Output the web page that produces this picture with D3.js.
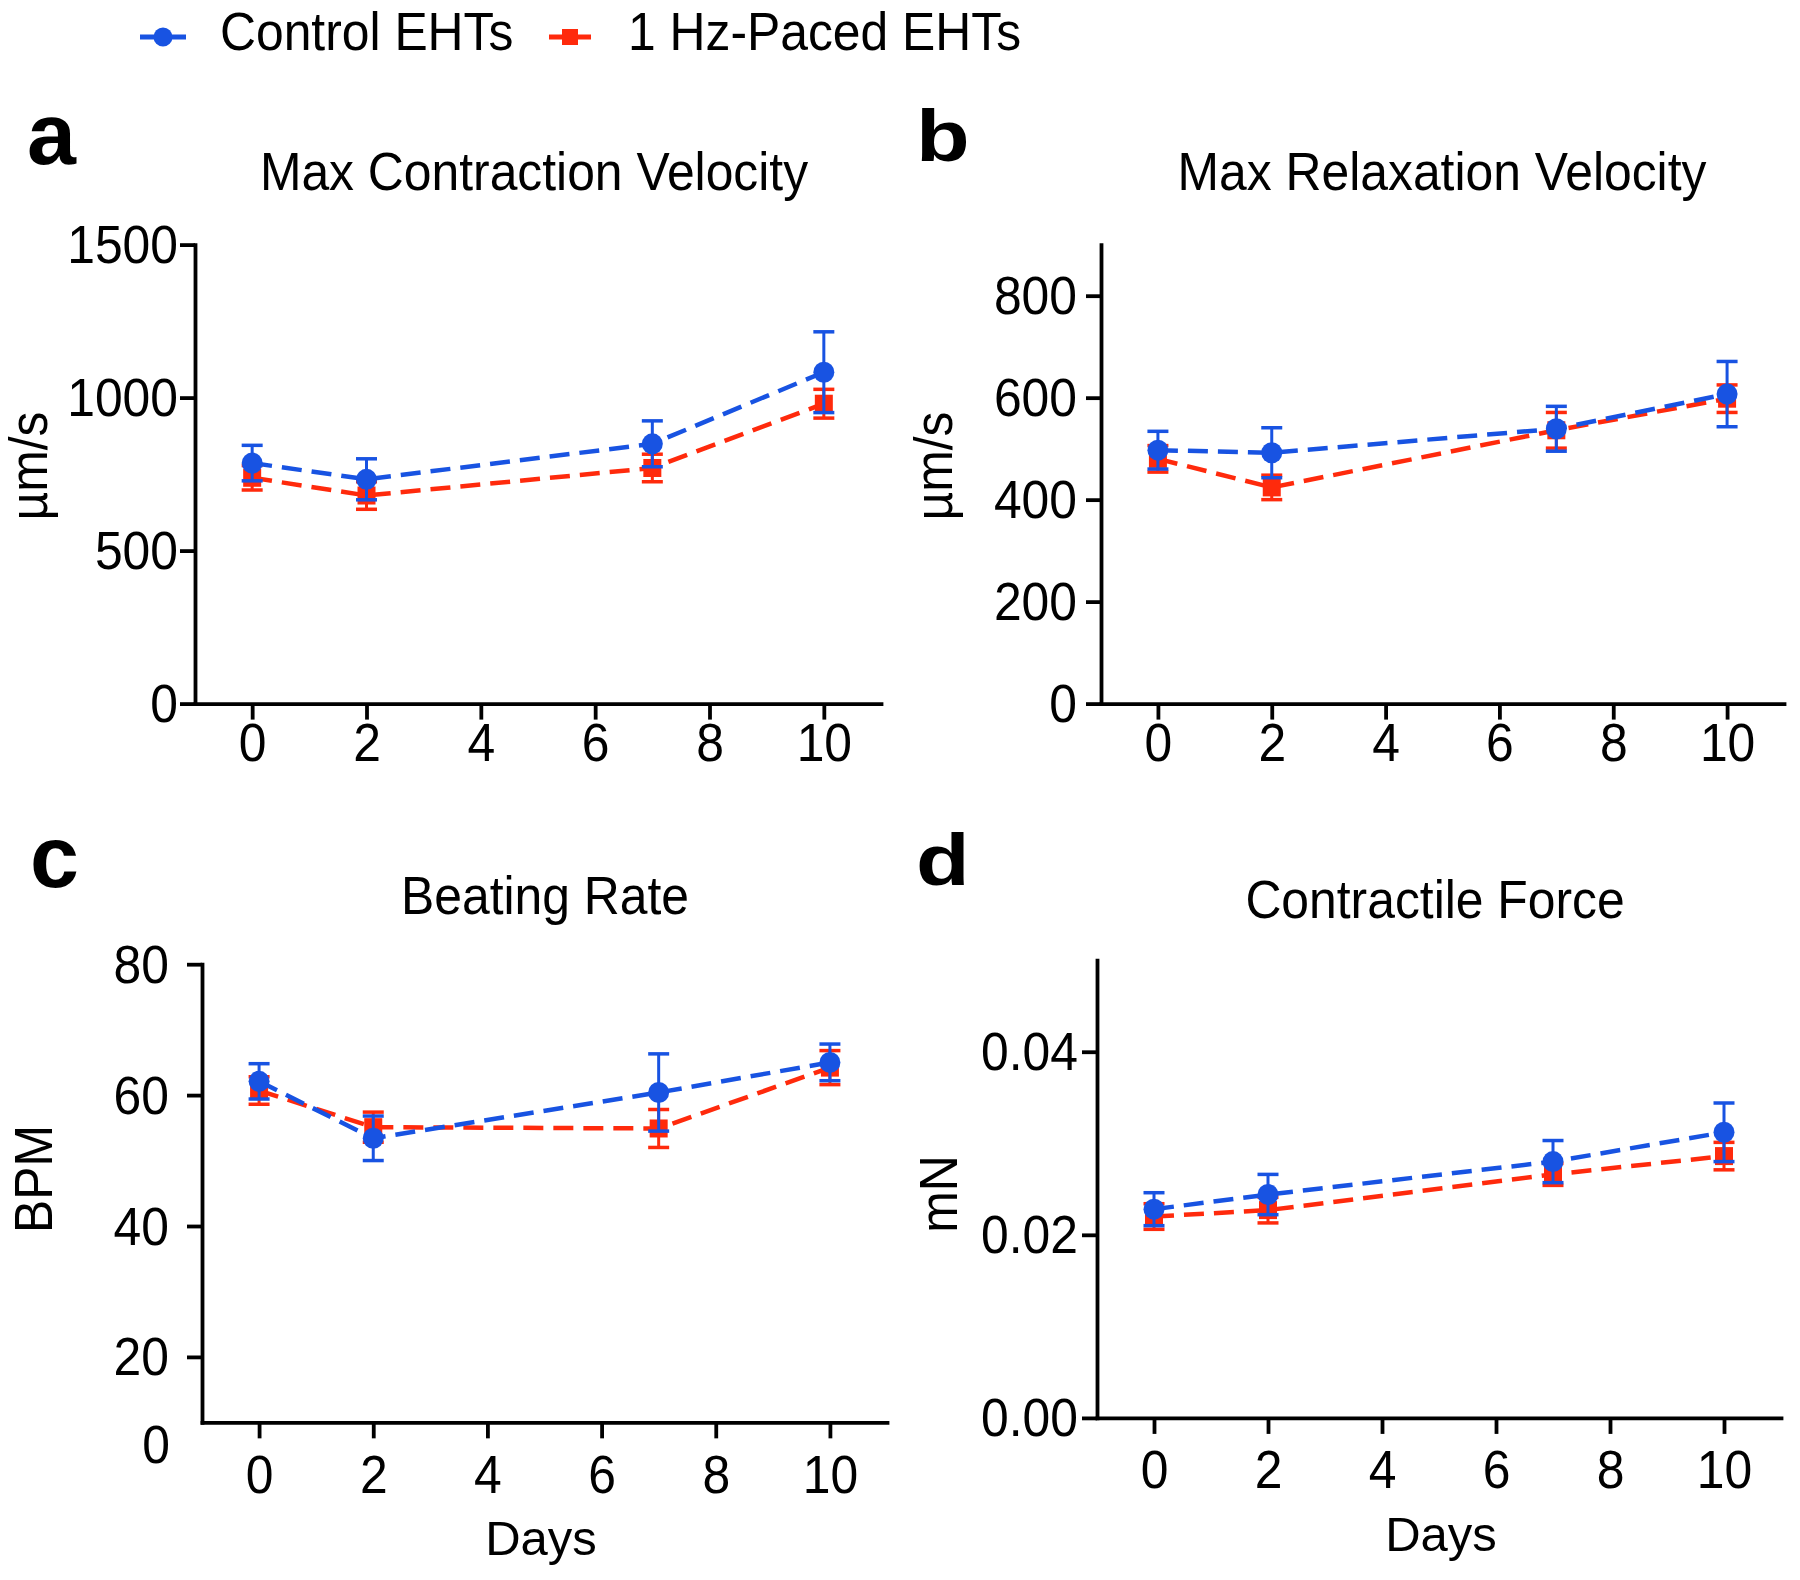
<!DOCTYPE html>
<html>
<head>
<meta charset="utf-8">
<script src="https://cdn.jsdelivr.net/npm/d3@7"></script>
<style>
  html, body { margin: 0; padding: 0; background: #fff; }
  svg { display: block; }
  text { font-family: "Liberation Sans", Arial, Helvetica, sans-serif; fill: #000; }
</style>
</head>
<body>
<svg id="chart" width="1800" height="1580"></svg>
<script>
// ---------------- DATA ----------------
const days = [0, 2, 7, 10];
const dayTicks = [0, 2, 4, 6, 8, 10];
const seriesNames = ["Control EHTs", "1 Hz-Paced EHTs"];
const panelLetters = ["a", "b", "c", "d"];
const panelTitles = ["Max Contraction Velocity", "Max Relaxation Velocity", "Beating Rate", "Contractile Force"];
const yTitles = ["µm/s", "µm/s", "BPM", "mN"];
const xTitle = "Days";

// a: Max Contraction Velocity (µm/s)
const ctrlContraction = [786, 733, 849, 1083];
const ctrlContractionSem = [58, 67, 75, 132];
const pacedContraction = [738, 680, 770, 980];
const pacedContractionSem = [40, 45, 45, 47];
const ticksContraction = [0, 500, 1000, 1500];

// b: Max Relaxation Velocity (µm/s)
const ctrlRelaxation = [497, 492, 539, 607];
const ctrlRelaxationSem = [37, 49, 44, 64];
const pacedRelaxation = [480, 424, 536, 598];
const pacedRelaxationSem = [26, 24, 35, 27];
const ticksRelaxation = [0, 200, 400, 600, 800];

// c: Beating Rate (BPM)
const ctrlRate = [62.1, 53.4, 60.4, 65.0];
const ctrlRateSem = [2.7, 3.4, 5.9, 2.8];
const pacedRate = [60.7, 55.1, 54.9, 64.2];
const pacedRateSem = [2.1, 2.3, 2.9, 2.6];
const ticksRate = [20, 40, 60, 80];
const ticksRateExtra = ["0"];

// d: Contractile Force (mN)
const ctrlForce = [0.0228, 0.0244, 0.0280, 0.0312];
const ctrlForceSem = [0.0018, 0.0022, 0.0023, 0.0032];
const pacedForce = [0.0220, 0.0227, 0.0266, 0.0286];
const pacedForceSem = [0.0014, 0.0014, 0.0012, 0.0015];
const ticksForce = [0, 0.02, 0.04];

// ---------------- STYLE / LAYOUT ----------------
const BLUE = "#1853e2";
const RED = "#ff2a0c";
const FS = 53;           // main font size
const SX = 0.94;         // horizontal glyph compression
const AXW = 3.8;         // axis stroke width

const svg = d3.select("#chart");

function txt(g, x, y, s, opts) {
  opts = opts || {};
  const t = g.append("text")
    .attr("transform", `translate(${x},${y})` + (opts.rotate ? ` rotate(${opts.rotate})` : "") + ` scale(${opts.sx === undefined ? SX : opts.sx},1)`)
    .attr("text-anchor", opts.anchor || "middle")
    .style("font-size", (opts.size || FS) + "px")
    .style("font-weight", opts.weight || "normal")
    .text(s);
  return t;
}

function fixAxisText(axisG, size) {
  axisG.selectAll(".tick text").each(function () {
    const t = d3.select(this);
    const x = +t.attr("x") || 0;
    const y = +t.attr("y") || 0;
    t.attr("x", 0).attr("y", 0)
     .attr("transform", `translate(${x},${y}) scale(${SX},1)`)
     .style("font-size", size + "px")
     .attr("fill", "#000");
  });
}

const panels = [
  { ctrl: ctrlContraction, ctrlSem: ctrlContractionSem, paced: pacedContraction, pacedSem: pacedContractionSem,
    ticks: ticksContraction, fmt: d3.format("d"),
    domain: [0, 1500], axisMin: 0, axisMax: 1500,
    xr: [195, 881], yr: [703.6, 244.6], yLabGap: 17, xLabPad: 4,
    title: [534, 190], ytitle: [47, 466], letter: [27, 164, 88, 1], xtitle: null },
  { ctrl: ctrlRelaxation, ctrlSem: ctrlRelaxationSem, paced: pacedRelaxation, pacedSem: pacedRelaxationSem,
    ticks: ticksRelaxation, fmt: d3.format("d"),
    domain: [0, 900], axisMin: 0, axisMax: 900,
    xr: [1101, 1784], yr: [703.6, 244.7], yLabGap: 24, xLabPad: 4,
    title: [1442, 190], ytitle: [952, 466], letter: [916, 161, 72, 1.22], xtitle: null },
  { ctrl: ctrlRate, ctrlSem: ctrlRateSem, paced: pacedRate, pacedSem: pacedRateSem,
    ticks: ticksRate, fmt: d3.format("d"),
    domain: [0, 80], axisMin: 10, axisMax: 80,
    xr: [202, 887], yr: [1487.8, 964.2], yLabGap: 33, xLabPad: 17,
    title: [545, 914], ytitle: [52, 1179], letter: [30, 887, 88, 1], xtitle: [541, 1555],
    extraLabel: { text: ticksRateExtra[0], value: 6.6 } },
  { ctrl: ctrlForce, ctrlSem: ctrlForceSem, paced: pacedForce, pacedSem: pacedForceSem,
    ticks: ticksForce, fmt: d3.format(".2f"),
    domain: [0, 0.05], axisMin: 0, axisMax: 0.05,
    xr: [1097, 1781], yr: [1417.9, 960.2], yLabGap: 19, xLabPad: 16,
    title: [1435, 918], ytitle: [957, 1194], letter: [916, 885, 72, 1.22], xtitle: [1441, 1551] }
];

panels.forEach((p, i) => {
  const g = svg.append("g");
  const x = d3.scaleLinear().domain([-1, 11]).range(p.xr);
  const y = d3.scaleLinear().domain(p.domain).range(p.yr);
  const yAxisScale = d3.scaleLinear().domain([p.axisMin, p.axisMax]).range([y(p.axisMin), y(p.axisMax)]);
  const baseY = y(p.axisMin);

  // y axis
  const ya = g.append("g").attr("transform", `translate(${p.xr[0]},0)`)
    .call(d3.axisLeft(yAxisScale).tickValues(p.ticks).tickFormat(p.fmt)
      .tickSize(15).tickSizeOuter(0).tickPadding(p.yLabGap - 15));
  ya.selectAll(".tick text").attr("dy", "0.34em");
  fixAxisText(ya, FS);

  // x axis
  const xa = g.append("g").attr("transform", `translate(0,${baseY})`)
    .call(d3.axisBottom(x).tickValues(dayTicks).tickFormat(d3.format("d"))
      .tickSize(16).tickSizeOuter(0).tickPadding(p.xLabPad));
  fixAxisText(xa, FS);

  [ya, xa].forEach(a => {
    a.select(".domain").attr("stroke", "#000").attr("stroke-width", AXW).attr("stroke-linecap", "square");
    a.selectAll(".tick line").attr("stroke", "#000").attr("stroke-width", AXW);
    a.attr("font-family", null).attr("font-size", null);
  });

  if (p.extraLabel) {
    txt(g, p.xr[0] - p.yLabGap + 1, y(p.extraLabel.value) + FS * 0.34, p.extraLabel.text, { anchor: "end" });
  }

  // titles
  txt(g, p.title[0], p.title[1], panelTitles[i]);
  txt(g, p.ytitle[0], p.ytitle[1], yTitles[i], { rotate: -90 });
  if (p.xtitle) txt(g, p.xtitle[0], p.xtitle[1], xTitle, { sx: 1, size: 49 });
  txt(g, p.letter[0], p.letter[1], panelLetters[i], { anchor: "start", weight: "bold", size: p.letter[2], sx: p.letter[3] });

  // series
  const series = [
    { vals: p.paced, sem: p.pacedSem, color: RED, shape: "square" },
    { vals: p.ctrl, sem: p.ctrlSem, color: BLUE, shape: "circle" }
  ];
  series.forEach(s => {
    const pts = days.map((d, k) => ({ d, v: s.vals[k], e: s.sem[k] }));
    const sg = g.append("g");
    sg.append("path")
      .datum(pts)
      .attr("fill", "none")
      .attr("stroke", s.color)
      .attr("stroke-width", 4.5)
      .attr("stroke-dasharray", "20,10")
      .attr("d", d3.line().x(q => x(q.d)).y(q => y(q.v)));
    const eb = sg.selectAll("g.eb").data(pts).join("g").attr("class", "eb");
    eb.append("line")
      .attr("x1", q => x(q.d)).attr("x2", q => x(q.d))
      .attr("y1", q => y(q.v - q.e)).attr("y2", q => y(q.v + q.e))
      .attr("stroke", s.color).attr("stroke-width", 3);
    [-1, 1].forEach(sign => {
      eb.append("line")
        .attr("x1", q => x(q.d) - 10.5).attr("x2", q => x(q.d) + 10.5)
        .attr("y1", q => y(q.v + sign * q.e)).attr("y2", q => y(q.v + sign * q.e))
        .attr("stroke", s.color).attr("stroke-width", 3.5);
    });
    if (s.shape === "circle") {
      sg.selectAll("circle").data(pts).join("circle")
        .attr("cx", q => x(q.d)).attr("cy", q => y(q.v)).attr("r", 10.5)
        .attr("fill", s.color);
    } else {
      sg.selectAll("rect").data(pts).join("rect")
        .attr("x", q => x(q.d) - 9).attr("y", q => y(q.v) - 9)
        .attr("width", 18).attr("height", 18)
        .attr("fill", s.color);
    }
  });
});

// ---------------- LEGEND ----------------
const leg = svg.append("g");
const legendItems = [
  { name: seriesNames[0], color: BLUE, shape: "circle", x0: 140, x1: 186, tx: 220 },
  { name: seriesNames[1], color: RED, shape: "square", x0: 549, x1: 591, tx: 628 }
];
legendItems.forEach(it => {
  leg.append("line").attr("x1", it.x0).attr("x2", it.x1).attr("y1", 37).attr("y2", 37)
    .attr("stroke", it.color).attr("stroke-width", 5);
  const cx = (it.x0 + it.x1) / 2;
  if (it.shape === "circle") {
    leg.append("circle").attr("cx", cx).attr("cy", 37).attr("r", 9.5).attr("fill", it.color);
  } else {
    leg.append("rect").attr("x", cx - 8).attr("y", 29).attr("width", 16).attr("height", 16).attr("fill", it.color);
  }
  txt(leg, it.tx, 50, it.name, { anchor: "start" });
});
</script>
</body>
</html>
